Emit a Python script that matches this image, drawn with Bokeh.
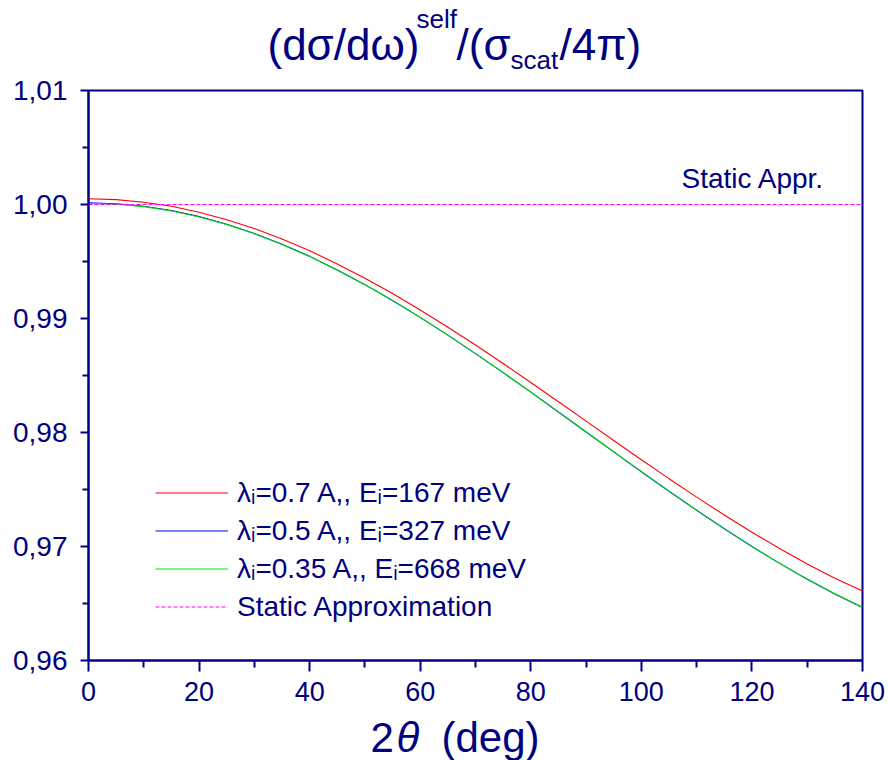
from bokeh.plotting import figure
from bokeh.layouts import column
from bokeh.models import (Range1d, FixedTicker, CustomJSTickFormatter, Legend,
                          LegendItem, Label)
from bokeh.embed import file_html
from bokeh.resources import INLINE

# ---------------- data ----------------
ANGLE = [0, 5, 10, 15, 20, 25, 30, 35, 40, 45, 50, 55, 60, 65, 70,
         75, 80, 85, 90, 95, 100, 105, 110, 115, 120, 125, 130, 135, 140]

RED_07A = [1.00050, 1.00043, 1.00020, 0.99984, 0.99932, 0.99867, 0.99789,
           0.99697, 0.99594, 0.99479, 0.99353, 0.99219, 0.99075, 0.98924,
           0.98767, 0.98605, 0.98439, 0.98270, 0.98100, 0.97930, 0.97761,
           0.97595, 0.97433, 0.97276, 0.97125, 0.96982, 0.96847, 0.96721,
           0.96610]

BLUE_05A = [1.00015, 1.00007, 0.99985, 0.99947, 0.99894, 0.99827, 0.99746,
            0.99651, 0.99545, 0.99426, 0.99297, 0.99158, 0.99010, 0.98854,
            0.98692, 0.98525, 0.98354, 0.98180, 0.98005, 0.97830, 0.97656,
            0.97485, 0.97318, 0.97156, 0.97000, 0.96852, 0.96713, 0.96584,
            0.96465]

GREEN_035A = [1.00009, 1.00002, 0.99981, 0.99943, 0.99891, 0.99824, 0.99744,
              0.99649, 0.99543, 0.99425, 0.99296, 0.99157, 0.99009, 0.98854,
              0.98692, 0.98526, 0.98355, 0.98181, 0.98006, 0.97831, 0.97657,
              0.97486, 0.97319, 0.97157, 0.97001, 0.96853, 0.96714, 0.96585,
              0.96467]

STATIC = [1.0] * len(ANGLE)

SERIES_LABELS = ["λᵢ=0.7 A,, Eᵢ=167 meV",
                 "λᵢ=0.5 A,, Eᵢ=327 meV",
                 "λᵢ=0.35 A,, Eᵢ=668 meV",
                 "Static Approximation"]

X_TICKS = [0, 20, 40, 60, 80, 100, 120, 140]
X_MINOR = [10, 30, 50, 70, 90, 110, 130]
Y_TICKS = [0.96, 0.97, 0.98, 0.99, 1.00, 1.01]
Y_MINOR = [0.965, 0.975, 0.985, 0.995, 1.005]

# ---------------- style ----------------
NAVY = "#000080"
FONT = "Liberation Sans"
W = 888
LEFT, RIGHT, TOP, BOTTOM = 88, 862, 90, 660
TITLE_H = 74          # height of the title strip
MAIN_BOTTOM = 713     # page y where the main figure ends
PAGE_H = 760
X0, X1, Y0, Y1 = 0, 140, 0.96, 1.01
BASELINE_SHIFT = 0.33  # Label 'alphabetic' anchor correction (em)


def text_strip(y_top, y_bottom):
    # frame aligned with the main plot frame; data units = page pixels
    f = figure(frame_width=RIGHT - LEFT, frame_height=y_bottom - y_top,
               x_range=Range1d(LEFT, RIGHT), y_range=Range1d(y_bottom, y_top),
               x_axis_type=None, y_axis_type=None,
               output_backend="svg", toolbar_location=None, min_border=0)
    f.outline_line_color = None
    f.xgrid.visible = False
    f.ygrid.visible = False
    f.background_fill_color = "white"
    f.border_fill_color = "white"
    return f


def put(f, text, x, y, size_px, style="normal"):
    f.add_layout(Label(x=x, y=y - BASELINE_SHIFT * size_px, text=text,
                       text_font=FONT, text_font_size=f"{size_px}px",
                       text_color=NAVY, text_font_style=style,
                       text_align="left", text_baseline="alphabetic"))


# ---------------- title strip ----------------
top = text_strip(0, TITLE_H)
put(top, "(dσ/dω)", 267, 59, 44)
put(top, "self", 416, 27, 26)
put(top, "/(σ", 456, 59, 44)
put(top, "scat", 510, 68, 26)
put(top, "/4π)", 559, 59, 44)

# ---------------- main plot ----------------
p = figure(width=W, height=MAIN_BOTTOM - TITLE_H,
           x_range=Range1d(X0, X1), y_range=Range1d(Y0, Y1),
           output_backend="svg", toolbar_location=None,
           min_border_left=LEFT, min_border_right=W - RIGHT,
           min_border_top=TOP - TITLE_H, min_border_bottom=MAIN_BOTTOM - BOTTOM)
p.xgrid.visible = False
p.ygrid.visible = False
p.outline_line_color = NAVY
p.outline_line_width = 2
p.outline_line_alpha = 1.0
p.background_fill_color = "white"
p.border_fill_color = "white"

for ax in (p.xaxis[0], p.yaxis[0]):
    ax.axis_line_color = NAVY
    ax.axis_line_width = 2
    ax.major_tick_line_color = NAVY
    ax.minor_tick_line_color = NAVY
    ax.major_tick_line_width = 2
    ax.minor_tick_line_width = 2
    ax.major_tick_in = 0
    ax.minor_tick_in = 0
    ax.major_label_text_color = NAVY
    ax.major_label_text_font = FONT

p.xaxis.ticker = FixedTicker(ticks=X_TICKS, minor_ticks=X_MINOR)
p.xaxis.major_tick_out = 11
p.xaxis.minor_tick_out = 7
p.xaxis.major_label_standoff = 10
p.xaxis.major_label_text_font_size = "27px"

p.yaxis.ticker = FixedTicker(ticks=Y_TICKS, minor_ticks=Y_MINOR)
p.yaxis.formatter = CustomJSTickFormatter(code="return tick.toFixed(2).replace('.', ',');")
p.yaxis.major_tick_out = 8
p.yaxis.minor_tick_out = 6
p.yaxis.major_label_standoff = 13
p.yaxis.major_label_text_font_size = "28px"

r_red = p.line(ANGLE, RED_07A, line_color="#ff0000", line_width=1.1)
r_blue = p.line(ANGLE, BLUE_05A, line_color="#0000ff", line_width=1.1)
r_green = p.line(ANGLE, GREEN_035A, line_color="#00e000", line_width=1.1)
r_static = p.line(ANGLE, STATIC, line_color="#ff00ff", line_width=1,
                  line_dash="4 2")

legend = Legend(items=[LegendItem(label=SERIES_LABELS[0], renderers=[r_red]),
                       LegendItem(label=SERIES_LABELS[1], renderers=[r_blue]),
                       LegendItem(label=SERIES_LABELS[2], renderers=[r_green]),
                       LegendItem(label=SERIES_LABELS[3], renderers=[r_static])],
                location=(67, 35))
legend.border_line_color = None
legend.background_fill_alpha = 0
legend.padding = 0
legend.margin = 0
legend.spacing = 1
legend.glyph_height = 37
legend.label_height = 37
legend.glyph_width = 73
legend.label_standoff = 9
legend.label_text_font = FONT
legend.label_text_font_size = "28px"
legend.label_text_color = NAVY
p.add_layout(legend)


def px_x(px):
    return X0 + (px - LEFT) / (RIGHT - LEFT) * (X1 - X0)


def px_y(py):
    return Y1 - (py - TOP) / (BOTTOM - TOP) * (Y1 - Y0)


p.add_layout(Label(x=px_x(681), y=px_y(187 - BASELINE_SHIFT * 28),
                   text="Static Appr.", text_font=FONT, text_font_size="28px",
                   text_color=NAVY, text_align="left",
                   text_baseline="alphabetic"))

# ---------------- x-axis title strip ----------------
bot = text_strip(MAIN_BOTTOM, PAGE_H)
put(bot, "2", 370, 751, 42)
put(bot, "θ", 396, 751, 42, "italic")
put(bot, "(deg)", 441, 751, 42)

page = column(top, p, bot, spacing=0)
open("out.html", "w").write(file_html(page, INLINE))
